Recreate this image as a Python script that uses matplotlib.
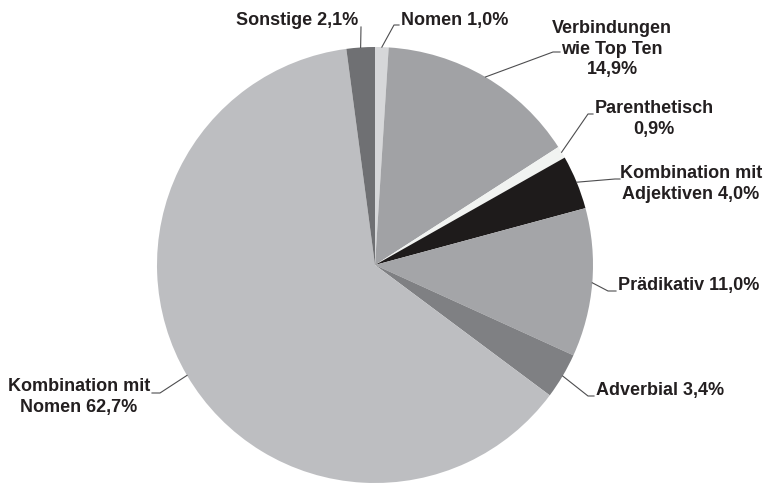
import numpy as np
import matplotlib.pyplot as plt

# shares in percent, clockwise from 12 o'clock
labels = ["Nomen 1,0%", "Verbindungen\nwie Top Ten\n14,9%", "Parenthetisch\n0,9%",
          "Kombination mit\nAdjektiven 4,0%", "Prädikativ 11,0%", "Adverbial 3,4%",
          "Kombination mit\nNomen 62,7%", "Sonstige 2,1%"]
shares = [1.0, 14.9, 0.9, 4.0, 11.0, 3.4, 62.7, 2.1]
colors = ["#d6d7d9", "#a1a2a5", "#f1f3f1", "#1e1b1b", "#a4a5a8", "#7f8083", "#bdbec1", "#6f7073"]

# label layout in pixels: text anchor (x, y), ha, va, leader elbow, leader end
W, H = 768, 484
CX, CY, R = 375, 265, 218
layout = [
    ((401, 25), "left", "baseline", (394, 25), (399, 25)),
    ((612, 49), "center", "center", (553, 52), (560, 52)),
    ((654, 119), "center", "center", (588, 114), (593, 114)),
    ((691, 184), "center", "center", (615, 179), (620, 179)),
    ((618, 290), "left", "baseline", (608, 291), (616, 291)),
    ((596, 395), "left", "baseline", (588, 396), (594, 396)),
    ((79, 397), "center", "center", (160, 393), (152, 393)),
    ((358, 25), "right", "baseline", (361, 27), (361, 27)),
]

plt.rcParams['font.family'] = ['Liberation Sans', 'DejaVu Sans']

fig = plt.figure(figsize=(W / 100, H / 100), dpi=100)
ax = fig.add_axes([(CX - R) / W, (H - CY - R) / H, 2 * R / W, 2 * R / H])
ax.pie(shares, colors=colors, startangle=90, counterclock=False,
       wedgeprops=dict(linewidth=0))
ax.set_xlim(-1, 1)
ax.set_ylim(-1, 1)
ax.axis('off')


def to_data(p):
    return (p[0] - CX) / R, (CY - p[1]) / R


cum = np.cumsum([0] + shares)
for i, lab in enumerate(labels):
    mid = 90 - 3.6 * (cum[i] + cum[i + 1]) / 2
    wx, wy = np.cos(np.radians(mid)), np.sin(np.radians(mid))
    (tp, ha, va, elbow, end) = layout[i]
    ex, ey = to_data(elbow)
    nx, ny = to_data(end)
    ax.plot([wx, ex, nx], [wy, ey, ny], color="#4d4d4f", lw=0.8, clip_on=False)
    tx, ty = to_data(tp)
    ax.text(tx, ty, lab, ha=ha, va=va, multialignment="center", fontsize=13,
            fontweight="bold", color="#231f20", linespacing=1.3, clip_on=False)

fig.savefig("out.png", dpi=100, facecolor="white")
